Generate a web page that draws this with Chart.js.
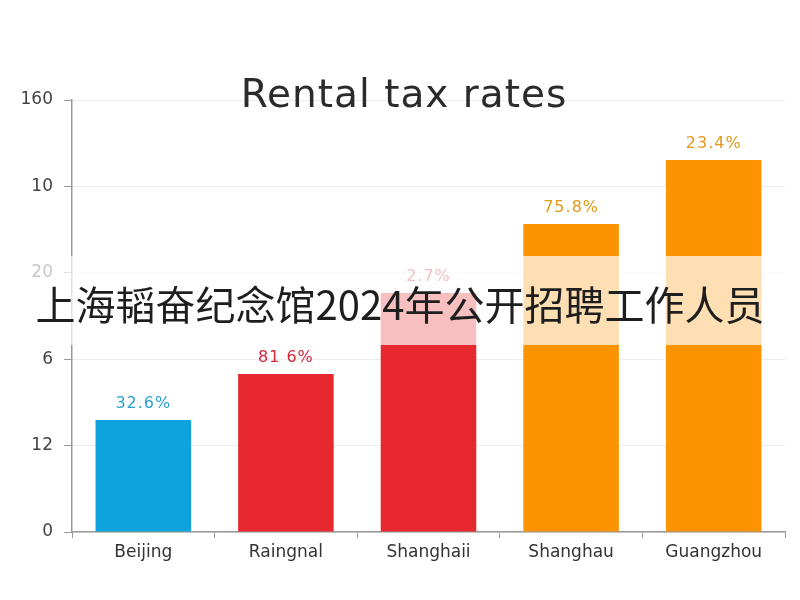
<!DOCTYPE html>
<html>
<head>
<meta charset="utf-8">
<style>
  html, body { margin: 0; padding: 0; background: #fff; }
  #wrap { width: 800px; height: 600px; position: relative; }
</style>
<script src="https://cdn.jsdelivr.net/npm/chart.js@4.4.1/dist/chart.umd.min.js"></script>
</head>
<body>
<div id="wrap"><canvas id="chart" width="800" height="600"></canvas></div>
<script>
// chart data
const cities = ['Beijing', 'Raingnal', 'Shanghaii', 'Shanghau', 'Guangzhou'];
const rates = [25.9, 36.6, 55.3, 71.3, 86.1];
const rateLabels = ['32.6%', '81 6%', '2.7%', '75.8%', '23.4%'];
const yTickLabels = ['0', '12', '6', '20', '10', '160'];

const barColors = ['#0ea2df', '#e8282f', '#e8282f', '#fb9400', '#fb9400'];
const labelColors = ['#2a9fd2', '#d2283a', '#d2283a', '#e39a1a', '#e39a1a'];

const titleText = 'Rental tax rates';
const bannerText = '上海韬奋纪念馆2024年公开招聘工作人员';

const sans = "'DejaVu Sans', Verdana, sans-serif";

// value labels above bars + title + overlay banner
const overlayPlugin = {
  id: 'overlay',
  afterDatasetsDraw(chart) {
    const c = chart.ctx;
    const meta = chart.getDatasetMeta(0);
    c.save();
    c.font = `16px ${sans}`;
    c.letterSpacing = '1px';
    c.textAlign = 'center';
    c.textBaseline = 'middle';
    meta.data.forEach((bar, i) => {
      c.fillStyle = labelColors[i];
      c.fillText(rateLabels[i], bar.x, bar.y - 16);
    });
    c.restore();
  },
  afterDraw(chart) {
    const c = chart.ctx;
    c.save();
    c.font = `39px ${sans}`;
    c.letterSpacing = '1px';
    c.fillStyle = '#2b2b2b';
    c.textAlign = 'center';
    c.textBaseline = 'alphabetic';
    c.fillText(titleText, 404, 107);

    c.letterSpacing = '0px';
    c.fillStyle = 'rgba(255,255,255,0.7)';
    c.fillRect(0, 256, chart.width, 89);
    c.font = "40px 'Noto Sans CJK SC', sans-serif";
    c.fillStyle = '#1e1e1e';
    c.textBaseline = 'middle';
    c.fillText(bannerText, 400, 305);
    c.restore();
  }
};

new Chart(document.getElementById('chart'), {
  type: 'bar',
  data: {
    labels: cities,
    datasets: [{
      data: rates,
      backgroundColor: barColors,
      borderWidth: 0,
      barPercentage: 0.67,
      categoryPercentage: 1
    }]
  },
  options: {
    responsive: false,
    animation: false,
    layout: { padding: { top: 100, right: 15, left: 0, bottom: 0 } },
    plugins: {
      legend: { display: false },
      title: { display: false },
      tooltip: { enabled: false }
    },
    scales: {
      x: {
        grid: { display: true, drawOnChartArea: false, tickLength: 6, color: '#999', offset: true },
        border: { color: '#999', width: 1.5 },
        ticks: { color: '#333', font: { family: sans, size: 17 }, padding: 4 },
        afterFit(scale) { scale.height = 68; }
      },
      y: {
        min: 0,
        max: 100,
        grid: { color: '#ececec', tickColor: '#999', tickLength: 8 },
        border: { color: '#999', width: 1.5 },
        ticks: {
          stepSize: 20,
          color: '#444',
          padding: 11,
          font: { family: sans, size: 17 },
          callback: (v, i) => yTickLabels[i]
        },
        afterFit(scale) { scale.width = 72; }
      }
    }
  },
  plugins: [overlayPlugin]
});
</script>
</body>
</html>
